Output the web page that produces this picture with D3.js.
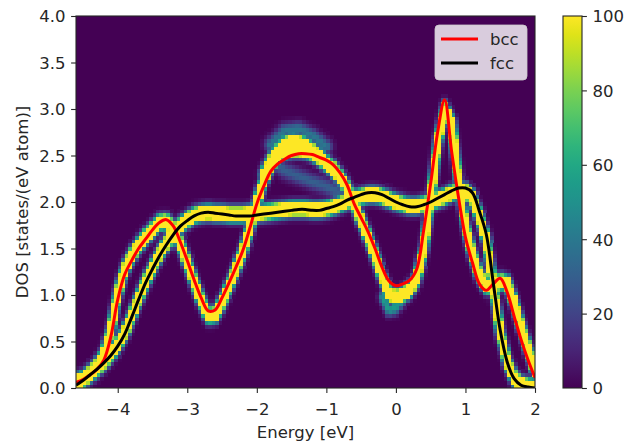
<!DOCTYPE html>
<html>
<head>
<meta charset="utf-8">
<script src="https://cdn.jsdelivr.net/npm/d3@7"></script>
<style>
  html, body { margin: 0; padding: 0; background: #ffffff; }
  svg { display: block; }
  text { font-family: "DejaVu Sans", sans-serif; fill: #262626; }
</style>
</head>
<body>
<svg id="chart" width="628" height="445"></svg>
<script>
// ---------------- data ----------------
const energy = [-4.6,-4.5,-4.4,-4.3,-4.2,-4.1,-4.0,-3.9,-3.8,-3.7,-3.6,-3.5,-3.4,-3.3,-3.2,-3.1,-3.0,-2.9,-2.8,-2.7,-2.6,-2.5,-2.4,-2.3,-2.2,-2.1,-2.0,-1.9,-1.8,-1.7,-1.6,-1.5,-1.4,-1.3,-1.2,-1.1,-1.0,-0.9,-0.8,-0.7,-0.6,-0.5,-0.4,-0.3,-0.2,-0.1,0.0,0.1,0.2,0.3,0.4,0.5,0.6,0.7,0.8,0.9,1.0,1.1,1.2,1.3,1.4,1.5,1.6,1.7,1.8,1.9,2.0];

// bcc DOS line (red)
const bccDOS = [0.06,0.09,0.14,0.2,0.3,0.55,0.95,1.22,1.37,1.5,1.6,1.7,1.78,1.81,1.74,1.57,1.37,1.16,0.97,0.83,0.84,0.97,1.13,1.3,1.48,1.72,1.98,2.17,2.33,2.41,2.46,2.5,2.52,2.52,2.51,2.48,2.45,2.4,2.31,2.18,1.98,1.83,1.68,1.5,1.3,1.15,1.1,1.12,1.16,1.28,1.7,2.2,2.75,3.1,2.55,2.05,1.62,1.35,1.12,1.05,1.12,1.18,1.03,0.77,0.52,0.3,0.11];

// fcc DOS line (black)
const fccDOS = [0.03,0.08,0.14,0.2,0.27,0.35,0.45,0.58,0.76,0.95,1.13,1.28,1.42,1.54,1.65,1.74,1.8,1.85,1.88,1.89,1.88,1.87,1.86,1.85,1.85,1.85,1.86,1.87,1.88,1.89,1.9,1.91,1.92,1.92,1.91,1.91,1.93,1.95,1.98,2.02,2.05,2.08,2.1,2.1,2.08,2.04,2.0,1.97,1.95,1.95,1.97,2.0,2.04,2.08,2.12,2.15,2.15,2.1,1.9,1.65,1.13,0.62,0.28,0.1,0.03,0.01,0.0];

// ridge of the bcc sample histogram (yellow band), same energy grid
const bccRidge = [0.07,0.1,0.16,0.24,0.36,0.62,1.02,1.28,1.43,1.54,1.63,1.71,1.78,1.79,1.72,1.55,1.35,1.14,0.94,0.78,0.79,0.93,1.1,1.28,1.47,1.72,2.0,2.24,2.4,2.5,2.55,2.57,2.57,2.56,2.53,2.48,2.42,2.36,2.27,2.15,1.98,1.8,1.62,1.42,1.2,1.02,0.98,1.01,1.06,1.18,1.5,2.05,2.65,3.0,2.85,2.2,1.75,1.45,1.22,1.1,1.1,1.15,1.13,0.92,0.66,0.42,0.18];

// ridge of the fcc sample histogram, same energy grid
const fccRidge = [0.04,0.09,0.15,0.21,0.28,0.37,0.47,0.6,0.78,0.97,1.15,1.3,1.44,1.56,1.66,1.75,1.81,1.86,1.88,1.89,1.88,1.88,1.87,1.87,1.87,1.88,1.88,1.89,1.9,1.91,1.92,1.93,1.93,1.93,1.92,1.92,1.93,1.95,1.98,2.01,2.04,2.06,2.08,2.08,2.06,2.03,2.0,1.98,1.96,1.96,1.98,2.0,2.03,2.06,2.1,2.12,2.12,2.05,1.85,1.6,1.1,0.6,0.28,0.11,0.04,0.02,0.01];

// secondary ridges of the bcc histogram
const upperRidgeE = [-1.9,-1.8,-1.7,-1.6,-1.5,-1.4,-1.3,-1.2,-1.1,-1.0,-0.9];
const upperRidgeV = [2.3,2.45,2.56,2.63,2.66,2.65,2.62,2.57,2.5,2.43,2.34];
const lowRidgeE = [-1.7,-1.6,-1.4,-1.2,-1.0,-0.8,-0.7];
const lowRidgeV = [2.4,2.34,2.28,2.22,2.17,2.1,2.05];
const haloRidgeE = [-1.8,-1.6,-1.4,-1.2,-1.0];
const haloRidgeV = [2.62,2.77,2.79,2.72,2.6];
const tailRidgeE = [-0.2,-0.1,0.0,0.1];
const tailRidgeV = [0.98,0.84,0.86,0.95];

const xTicks = [-4,-3,-2,-1,0,1,2];
const yTicks = [0.0,0.5,1.0,1.5,2.0,2.5,3.0,3.5,4.0];
const cTicks = [0,20,40,60,80,100];
const seriesNames = ["bcc","fcc"];
const seriesColors = ["#ff0000","#000000"];

// ---------------- layout ----------------
const svg = d3.select("#chart");
const L = 76, R = 535, T = 16, B = 388;
const x = d3.scaleLinear().domain([-4.6, 2.0]).range([L, R]);
const y = d3.scaleLinear().domain([0, 4]).range([B, T]);
const cmap = d3.scaleSequential(d3.interpolateViridis).domain([0, 100]).clamp(true);

// ---------------- heat map (2D histogram of samples) ----------------
const dxBin = 0.05, dyBin = 0.04;
const nx = Math.round(6.6 / dxBin), ny = Math.round(4 / dyBin);
const grid = new Float64Array(nx * ny);

function addRidge(es, vs, amp, ax, ay) {
  const pts = [];
  for (let i = 0; i < es.length - 1; i++) {
    const n = 20;
    for (let k = 0; k < n; k++) {
      const t = k / n;
      pts.push([es[i] + t * (es[i+1] - es[i]), vs[i] + t * (vs[i+1] - vs[i])]);
    }
  }
  pts.push([es[es.length-1], vs[vs.length-1]]);
  for (const [pe, pv] of pts) {
    const i0 = Math.max(0, Math.floor((pe - 4*ax + 4.6) / dxBin));
    const i1 = Math.min(nx - 1, Math.floor((pe + 4*ax + 4.6) / dxBin));
    const j0 = Math.max(0, Math.floor((pv - 4*ay) / dyBin));
    const j1 = Math.min(ny - 1, Math.floor((pv + 4*ay) / dyBin));
    for (let i = i0; i <= i1; i++) {
      const ce = -4.6 + (i + 0.5) * dxBin;
      for (let j = j0; j <= j1; j++) {
        const cv = (j + 0.5) * dyBin;
        const d2 = ((ce - pe) / ax) ** 2 + ((cv - pv) / ay) ** 2;
        const v = amp * Math.exp(-d2 / 2);
        if (v > grid[j * nx + i]) grid[j * nx + i] = v;
      }
    }
  }
}
addRidge(energy, bccRidge, 230, 0.034, 0.05);
addRidge(energy, fccRidge, 230, 0.034, 0.05);
addRidge(upperRidgeE, upperRidgeV, 170, 0.04, 0.05);
addRidge(lowRidgeE, lowRidgeV, 30, 0.05, 0.06);
addRidge(haloRidgeE, haloRidgeV, 40, 0.06, 0.05);
addRidge(tailRidgeE, tailRidgeV, 55, 0.035, 0.045);

const cells = [];
for (let i = 0; i < nx; i++) for (let j = 0; j < ny; j++) {
  const v = grid[j * nx + i];
  if (v > 0.8) cells.push({e0: -4.6 + i * dxBin, e1: -4.6 + (i + 1) * dxBin, d0: j * dyBin, d1: (j + 1) * dyBin, v});
}

svg.append("rect").attr("x", L).attr("y", T).attr("width", R - L).attr("height", B - T)
  .attr("fill", cmap(0));
svg.append("g").attr("shape-rendering", "crispEdges")
  .selectAll("rect").data(cells).join("rect")
  .attr("x", d => x(d.e0)).attr("y", d => y(d.d1))
  .attr("width", d => x(d.e1) - x(d.e0) + 0.3)
  .attr("height", d => y(d.d0) - y(d.d1) + 0.3)
  .attr("fill", d => cmap(d.v));

// ---------------- lines ----------------
const clip = svg.append("clipPath").attr("id", "clip").append("rect")
  .attr("x", L).attr("y", T).attr("width", R - L).attr("height", B - T);
const line = d3.line().x(d => x(d[0])).y(d => y(d[1])).curve(d3.curveCatmullRom.alpha(0.5));
[bccDOS, fccDOS].forEach((vals, k) => {
  svg.append("path").attr("clip-path", "url(#clip)")
    .datum(energy.map((e, i) => [e, vals[i]]))
    .attr("d", line).attr("fill", "none")
    .attr("stroke", seriesColors[k]).attr("stroke-width", 3)
    .attr("stroke-linejoin", "round").attr("stroke-linecap", "butt");
});

// ---------------- axes ----------------
const FS = 16.5;
const xAxis = svg.append("g").attr("transform", `translate(0,${B})`)
  .call(d3.axisBottom(x).tickValues(xTicks).tickSize(4.9).tickFormat(d => d3.format("")(d).replace("-", "\u2212")));
xAxis.selectAll("text").attr("y", 27).attr("dy", null).style("font-size", FS + "px").attr("fill", "#262626");

const yAxis = svg.append("g").attr("transform", `translate(${L},0)`)
  .call(d3.axisLeft(y).tickValues(yTicks).tickSize(4.9).tickFormat(d3.format(".1f")));
yAxis.selectAll("text").attr("x", -10.5).attr("dy", "0.36em").style("font-size", FS + "px").attr("fill", "#262626");

[xAxis, yAxis].forEach(g => {
  g.select(".domain").remove();
  g.selectAll(".tick line").attr("stroke", "#262626").attr("stroke-width", 1.1);
  g.selectAll("text").style("font-family", "DejaVu Sans, sans-serif");
});

svg.append("rect").attr("x", L).attr("y", T).attr("width", R - L).attr("height", B - T)
  .attr("fill", "none").attr("stroke", "#262626").attr("stroke-width", 1.1);

svg.append("text").attr("x", (L + R) / 2).attr("y", 437.5).attr("text-anchor", "middle")
  .style("font-size", FS + "px").text("Energy [eV]");
svg.append("text").attr("transform", `translate(27.5,${(T + B) / 2}) rotate(-90)`)
  .attr("text-anchor", "middle").style("font-size", FS + "px").text("DOS [states/(eV atom)]");

// ---------------- legend ----------------
const lg = svg.append("g");
lg.append("rect").attr("x", 435).attr("y", 25).attr("width", 92).attr("height", 55).attr("rx", 4)
  .attr("fill", "#ffffff").attr("fill-opacity", 0.8).attr("stroke", "#cccccc").attr("stroke-opacity", 0.8);
seriesNames.forEach((n, k) => {
  const yy = 39 + k * 24;
  lg.append("line").attr("x1", 441).attr("x2", 478).attr("y1", yy).attr("y2", yy)
    .attr("stroke", seriesColors[k]).attr("stroke-width", 3);
  lg.append("text").attr("x", 490).attr("y", yy).attr("dy", "0.36em")
    .style("font-size", FS + "px").text(n);
});

// ---------------- colour bar ----------------
const cbL = 563, cbW = 19;
const cy = d3.scaleLinear().domain([0, 100]).range([B, T]);
const defs = svg.append("defs");
const grad = defs.append("linearGradient").attr("id", "vir").attr("x1", 0).attr("y1", 1).attr("x2", 0).attr("y2", 0);
d3.range(0, 1.0001, 0.05).forEach(t => grad.append("stop").attr("offset", t).attr("stop-color", d3.interpolateViridis(t)));
svg.append("rect").attr("x", cbL).attr("y", T).attr("width", cbW).attr("height", B - T).attr("fill", "url(#vir)");
svg.append("rect").attr("x", cbL).attr("y", T).attr("width", cbW).attr("height", B - T)
  .attr("fill", "none").attr("stroke", "#262626").attr("stroke-width", 1.1);
const cAxis = svg.append("g").attr("transform", `translate(${cbL + cbW},0)`)
  .call(d3.axisRight(cy).tickValues(cTicks).tickSize(4.9));
cAxis.select(".domain").remove();
cAxis.selectAll(".tick line").attr("stroke", "#262626").attr("stroke-width", 1.1);
cAxis.selectAll("text").attr("x", 10.5).attr("dy", "0.36em").style("font-size", FS + "px")
  .style("font-family", "DejaVu Sans, sans-serif").attr("fill", "#262626");
</script>
</body>
</html>
